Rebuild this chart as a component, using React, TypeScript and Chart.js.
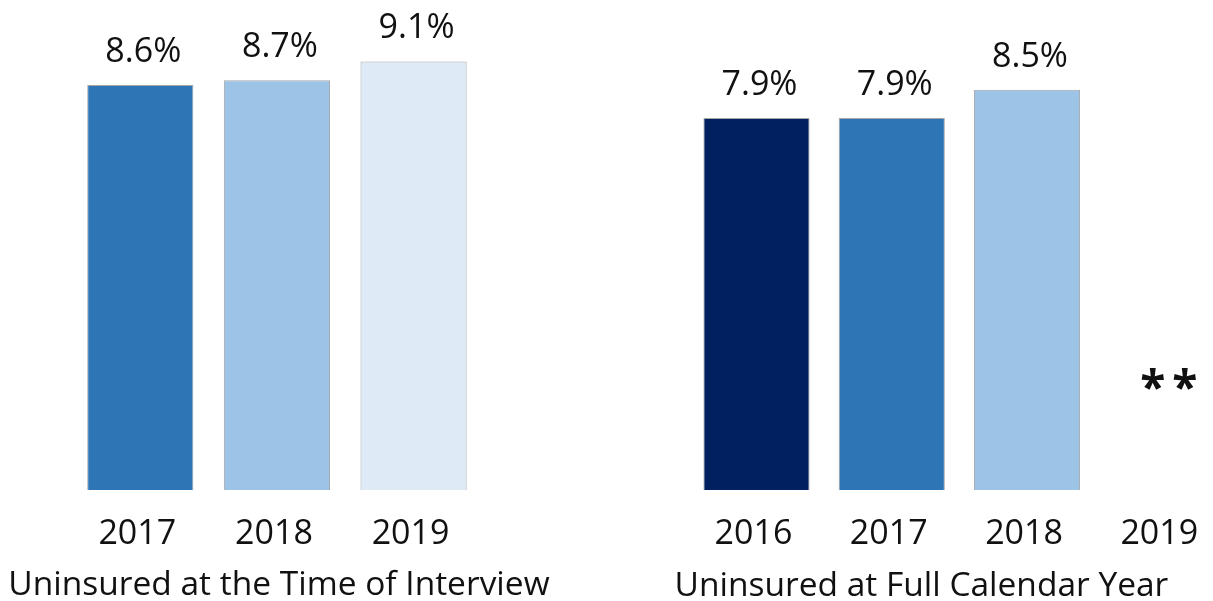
import React, { useEffect, useRef } from "react";
import { Chart, registerables } from "chart.js";

Chart.register(...registerables);

const leftYears = ["2017", "2018", "2019"];
const leftValues = [8.6, 8.7, 9.1];
const leftColors = ["#2E75B6", "#9DC3E6", "#DEEBF7"];
const leftSlots = [0, 1, 2];
const leftTitle = "Uninsured at the Time of Interview";

const rightYears = ["2016", "2017", "2018", "2019"];
const rightValues: (number | null)[] = [7.9, 7.9, 8.5, null];
const rightColors = ["#002060", "#2E75B6", "#9DC3E6", "#FFFFFF"];
const rightSlots = [4.51, 5.5, 6.49, 7.48];
const rightNotes = ["", "", "", "**"];
const rightTitle = "Uninsured at Full Calendar Year";

const FONT = "'Open Sans', 'Noto Sans', sans-serif";

export default function App() {
  const ref = useRef<HTMLCanvasElement | null>(null);
  useEffect(() => {
    if (!ref.current) return;
    const points = [
      ...leftSlots.map((x, i) => ({ x, y: leftValues[i] })),
      ...rightSlots.map((x, i) => ({ x, y: rightValues[i] })),
    ];
    const colors = [...leftColors, ...rightColors];
    const years = [...leftYears, ...rightYears];
    const notes = [...leftYears.map(() => ""), ...rightNotes];
    const allSlots = [...leftSlots, ...rightSlots];

    const labelPlugin = {
      id: "labels",
      afterDatasetsDraw(chart: any) {
        const ctx = chart.ctx;
        const xs = chart.scales.x;
        const ys = chart.scales.y;
        const meta = chart.getDatasetMeta(0);
        ctx.save();
        ctx.fillStyle = "#111111";
        ctx.textAlign = "center";
        ctx.textBaseline = "alphabetic";
        points.forEach((p, i) => {
          const el = meta.data[i];
          const cx = xs.getPixelForValue(p.x);
          if (p.y !== null && el) {
            ctx.font = `34px ${FONT}`;
            ctx.fillText(`${p.y.toFixed(1)}%`, cx + 3, el.y - 23);
          }
          ctx.font = `34px ${FONT}`;
          ctx.fillText(years[i], cx - 3, ys.bottom + 54);
          if (notes[i]) {
            ctx.font = `bold 46px ${FONT}`;
            (ctx as any).letterSpacing = "7px";
            ctx.fillText(notes[i], cx + 10, ys.getPixelForValue(1.82));
            (ctx as any).letterSpacing = "0px";
          }
        });
        ctx.font = `33.5px ${FONT}`;
        const lc = (xs.getPixelForValue(leftSlots[0]) + xs.getPixelForValue(leftSlots[leftSlots.length - 1])) / 2;
        ctx.fillText(leftTitle, lc + 2, ys.bottom + 105);
        const rc = (xs.getPixelForValue(rightSlots[0]) + xs.getPixelForValue(rightSlots[rightSlots.length - 1])) / 2 - 38;
        ctx.fillText(rightTitle, rc, ys.bottom + 106);
        ctx.restore();
      },
    };

    const chart = new Chart(ref.current, {
      type: "bar",
      data: {
        datasets: [
          {
            data: points as any,
            backgroundColor: colors,
            borderColor: "#A6A6A6",
            borderWidth: 1,
            barPercentage: 0.785,
            categoryPercentage: 1,
            grouped: false,
          } as any,
        ],
      },
      options: {
        animation: false,
        responsive: false,
        layout: { padding: { left: 72, right: 48, top: 19, bottom: 111 } },
        plugins: { legend: { display: false }, tooltip: { enabled: false } },
        scales: {
          x: {
            type: "linear",
            min: -0.5,
            max: 7.5,
            offset: false,
            display: false,
            afterBuildTicks: (scale: any) => {
              scale.ticks = allSlots.map((v) => ({ value: v }));
            },
          },
          y: { min: 0, max: 10, display: false },
        },
      },
      plugins: [labelPlugin],
    });
    return () => chart.destroy();
  }, []);
  return (
    <div style={{ position: "fixed", left: 0, top: 0, width: 1213, height: 601, background: "#fff" }}>
      <canvas ref={ref} width={1213} height={601} />
    </div>
  );
}
